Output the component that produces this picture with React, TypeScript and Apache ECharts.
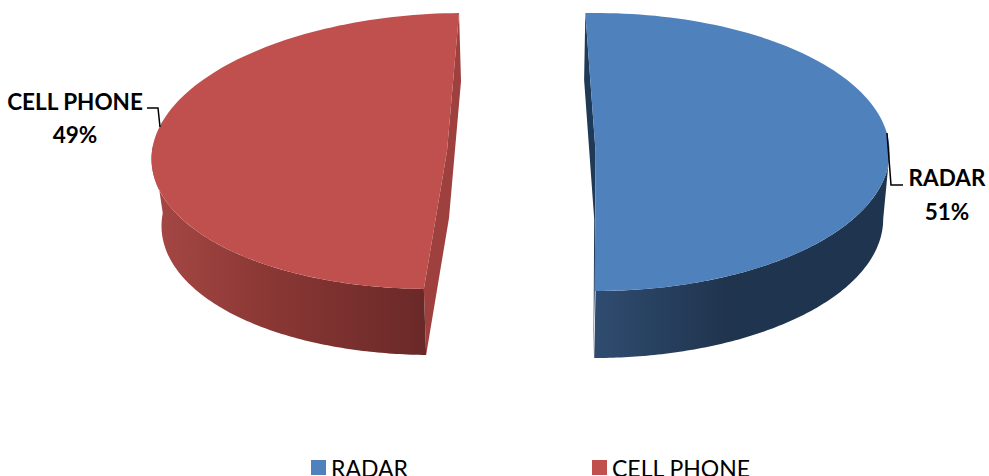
import React, { useEffect, useRef } from "react";
import * as echarts from "echarts";

const categories = ["RADAR", "CELL PHONE"];
const values = [50.6, 49.4];
const percentLabels = ["51%", "49%"];
const colors = ["#4F81BD", "#C0504D"];

type Geo = { cx: number; cy: number; rx: number; ry: number; k: number };
type Slice = {
  start: number;
  top: Geo;
  bottom: Geo;
  wall: string;
  front: { offset: number; color: string }[];
  side: [number, number];
  leader: number[][];
  label: [number, number, number];
};

const slices: Slice[] = [
  {
    start: -2,
    top: { cx: 595.6, cy: 152, rx: 294, ry: 139, k: 0 },
    bottom: { cx: 594.2, cy: 219, rx: 289, ry: 139, k: 0 },
    wall: "#1F3A57",
    front: [
      { offset: 0, color: "#2F4C70" },
      { offset: 0.45, color: "#20344E" },
      { offset: 1, color: "#1F344E" },
    ],
    side: [90, 180],
    leader: [[887, 133], [891, 185], [903, 185]],
    label: [947, 177, 211],
  },
  {
    start: 181.2,
    top: { cx: 447, cy: 151, rx: 295, ry: 138, k: -0.123 },
    bottom: { cx: 449, cy: 218, rx: 287, ry: 137, k: -0.123 },
    wall: "#9E403E",
    front: [
      { offset: 0, color: "#A64845" },
      { offset: 0.4, color: "#8C3835" },
      { offset: 1, color: "#692928" },
    ],
    side: [181.2, 272],
    leader: [[147, 108], [158, 108], [160, 127]],
    label: [75, 101, 134],
  },
];

const total = values.reduce((a, b) => a + b, 0);

function pt(g: Geo, deg: number): number[] {
  const t = (deg * Math.PI) / 180;
  const dy = -g.ry * Math.cos(t);
  return [g.cx + g.rx * Math.sin(t) + g.k * dy, g.cy + dy];
}

function arc(g: Geo, a: number, b: number): number[][] {
  const out: number[][] = [];
  const n = 120;
  for (let i = 0; i <= n; i++) out.push(pt(g, a + ((b - a) * i) / n));
  return out;
}

const renderItem = (params: any, api: any) => {
  const i = params.seriesIndex;
  const s = slices[i];
  const sweep = (api.value(0) / total) * 360;
  const end = s.start + sweep;
  const color = colors[i];
  const topArc = arc(s.top, s.start, end);
  const apexT = [s.top.cx, s.top.cy];
  const apexB = [s.bottom.cx, s.bottom.cy];

  const sideTop = arc(s.top, s.side[0], s.side[1]);
  const sideBottom = arc(s.bottom, s.side[0], s.side[1]).reverse();
  const frontFill = new echarts.graphic.LinearGradient(0, 0, 1, 0, s.front);

  const corner1T = pt(s.top, s.start);
  const corner1B = pt(s.bottom, s.start);
  const corner2T = pt(s.top, end);
  const corner2B = pt(s.bottom, end);

  const children: any[] = [
    {
      type: "polygon",
      shape: { points: [corner1T, apexT, corner2T, corner2B, apexB, corner1B] },
      style: { fill: s.wall },
    },
    {
      type: "polygon",
      shape: { points: sideTop.concat(sideBottom) },
      style: { fill: frontFill },
    },
    {
      type: "polygon",
      shape: { points: topArc.concat([apexT]) },
      style: { fill: color },
    },
    {
      type: "polyline",
      shape: { points: s.leader },
      style: { fill: "none", stroke: "#000", lineWidth: 1.5 },
    },
    {
      type: "text",
      x: s.label[0],
      y: s.label[1],
      style: {
        text: categories[i],
        fill: "#000",
        font: "bold 22.5px Lato",
        align: "center",
        verticalAlign: "middle",
      },
    },
    {
      type: "text",
      x: s.label[0],
      y: s.label[2],
      style: {
        text: percentLabels[i],
        fill: "#000",
        font: "bold 22.5px Lato",
        align: "center",
        verticalAlign: "middle",
      },
    },
  ];
  return { type: "group", children };
};

export default function App() {
  const ref = useRef<HTMLDivElement>(null);
  useEffect(() => {
    const chart = echarts.init(ref.current!, undefined, { renderer: "svg" });
    chart.setOption({
      animation: false,
      backgroundColor: "#fff",
      legend: {
        data: categories,
        left: 306,
        top: 451,
        itemWidth: 15,
        itemHeight: 15,
        itemGap: 184,
        icon: "rect",
        textStyle: { fontFamily: "Lato", fontSize: 23, color: "#000" },
        selectedMode: false,
      },
      series: categories.map((name, i) => ({
        type: "custom",
        name,
        coordinateSystem: "none",
        renderItem,
        itemStyle: { color: colors[i] },
        data: [[values[i]]],
      })),
    });
    return () => chart.dispose();
  }, []);
  return (
    <div
      ref={ref}
      style={{ position: "absolute", left: 0, top: 0, width: 989, height: 476, overflow: "hidden" }}
    />
  );
}
